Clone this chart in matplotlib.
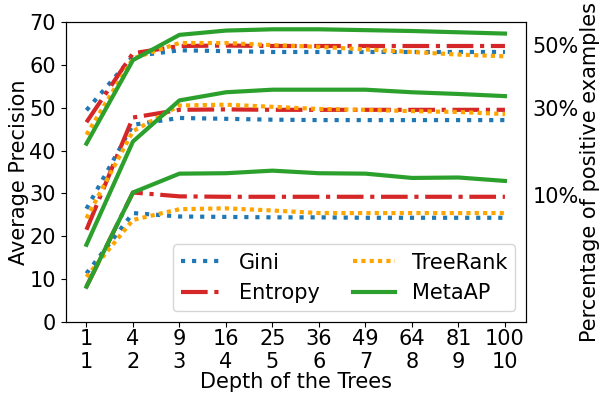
import numpy as np
import matplotlib
matplotlib.use("Agg")
import matplotlib.pyplot as plt

# depth of the trees: number of leaves (top row) and depth (bottom row)
leaves = [1, 4, 9, 16, 25, 36, 49, 64, 81, 100]
depths = [1, 2, 3, 4, 5, 6, 7, 8, 9, 10]

# average precision, one list per method and percentage of positives
gini_50 = [49.4, 62.0, 63.4, 63.2, 63.0, 63.0, 63.0, 63.0, 63.0, 63.0]
entropy_50 = [46.6, 62.7, 64.4, 64.5, 64.4, 64.4, 64.4, 64.4, 64.4, 64.4]
treerank_50 = [43.7, 61.5, 65.1, 65.1, 64.6, 64.2, 63.6, 63.0, 62.4, 62.0]
metaap_50 = [41.6, 61.1, 67.0, 68.0, 68.3, 68.3, 68.1, 67.9, 67.6, 67.3]

gini_30 = [26.4, 46.0, 47.6, 47.4, 47.2, 47.1, 47.1, 47.1, 47.1, 47.1]
entropy_30 = [21.5, 47.7, 49.5, 49.6, 49.5, 49.5, 49.5, 49.5, 49.5, 49.5]
treerank_30 = [24.2, 44.5, 50.5, 50.7, 50.2, 49.7, 49.5, 49.2, 49.0, 48.5]
metaap_30 = [18.0, 42.1, 51.7, 53.6, 54.2, 54.2, 54.2, 53.6, 53.2, 52.7]

gini_10 = [11.3, 25.4, 24.6, 24.5, 24.4, 24.4, 24.3, 24.3, 24.3, 24.3]
entropy_10 = [8.2, 30.2, 29.3, 29.2, 29.2, 29.2, 29.2, 29.2, 29.2, 29.2]
treerank_10 = [10.5, 23.8, 26.3, 26.5, 26.0, 25.4, 25.4, 25.4, 25.4, 25.4]
metaap_10 = [8.2, 30.2, 34.6, 34.7, 35.3, 34.7, 34.6, 33.6, 33.7, 32.9]

pct_labels = ['10%', '30%', '50%']
pct_pos = [29.7, 50.0, 64.7]

fs = 15
x = np.arange(1, len(leaves) + 1)

fig = plt.figure(figsize=(6.01, 3.93), dpi=100)
ax = fig.add_axes([0.109, 0.181, 0.766, 0.763])

styles = {
    'Gini': dict(color='tab:blue', linestyle=':', lw=3),
    'Entropy': dict(color='tab:red', linestyle='-.', lw=3),
    'TreeRank': dict(color='orange', linestyle=(0, (1, 1)), lw=3),
    'MetaAP': dict(color='tab:green', linestyle='-', lw=3),
}
groups = [
    (gini_50, entropy_50, treerank_50, metaap_50),
    (gini_30, entropy_30, treerank_30, metaap_30),
    (gini_10, entropy_10, treerank_10, metaap_10),
]
for k, grp in enumerate(groups):
    for name, vals in zip(['Gini', 'Entropy', 'TreeRank', 'MetaAP'], grp):
        ax.plot(x, vals, label=name if k == 0 else None, **styles[name])

ax.set_ylim(0, 70)
ax.set_yticks(range(0, 71, 10))
ax.set_xticks(x)
ax.set_xticklabels([f'{a}\n{b}' for a, b in zip(leaves, depths)])
ax.tick_params(labelsize=fs)
ax.tick_params(axis='x', pad=1.5)
ax.set_xlabel('Depth of the Trees', fontsize=fs, labelpad=0)
ax.set_ylabel('Average Precision', fontsize=fs, labelpad=0)

leg = ax.legend(loc='lower right', ncol=2, fontsize=fs, columnspacing=1.6)

ax2 = ax.twinx()
ax2.set_ylim(ax.get_ylim())
ax2.set_yticks(pct_pos)
ax2.set_yticklabels(pct_labels)
ax2.tick_params(length=0, labelsize=fs, pad=5)
ax2.set_ylabel('Percentage of positive examples', fontsize=fs, labelpad=1)

fig.savefig('out.png', dpi=100)
